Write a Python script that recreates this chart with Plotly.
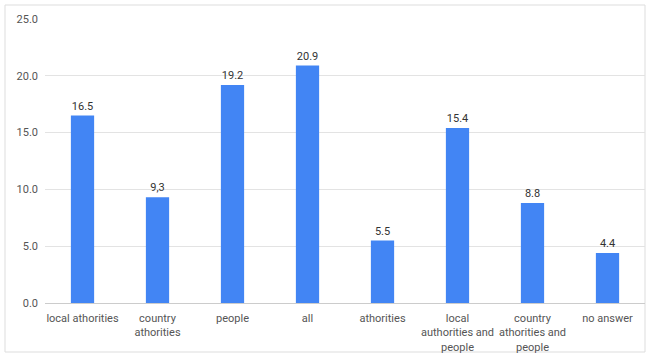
import plotly.graph_objects as go

categories = [
    "local athorities",
    "country<br>athorities",
    "people",
    "all",
    "athorities",
    "local<br>authorities and<br>people",
    "country<br>athorities and<br>people",
    "no answer",
]
values = [16.5, 9.3, 19.2, 20.9, 5.5, 15.4, 8.8, 4.4]
value_labels = ["16.5", "9,3", "19.2", "20.9", "5.5", "15.4", "8.8", "4.4"]
y_ticks = [0, 5, 10, 15, 20, 25]
y_tick_labels = ["0.0", "5.0", "10.0", "15.0", "20.0", "25.0"]

fig = go.Figure(
    go.Bar(
        x=categories,
        y=values,
        text=value_labels,
        textposition="outside",
        textfont=dict(family="Roboto, Arial, sans-serif", size=11, color="#333333"),
        cliponaxis=False,
        marker=dict(color="#4285F4", line=dict(width=0)),
        width=0.31,
    )
)

fig.update_layout(
    width=653,
    height=356,
    margin=dict(l=45, r=8, t=19, b=53),
    paper_bgcolor="white",
    plot_bgcolor="white",
    showlegend=False,
    font=dict(family="Roboto, Arial, sans-serif", size=11, color="#555555"),
    xaxis=dict(
        showgrid=False,
        showline=False,
        ticks="",
        tickfont=dict(size=11, color="#555555"),
        ticklabelstandoff=7,
        automargin=False,
        fixedrange=True,
    ),
    yaxis=dict(
        range=[0, 25],
        tickvals=y_ticks,
        ticktext=y_tick_labels,
        showgrid=True,
        gridcolor="#e3e3e3",
        gridwidth=1,
        zeroline=True,
        zerolinecolor="#cccccc",
        zerolinewidth=1,
        showline=False,
        ticks="",
        tickfont=dict(size=11, color="#555555"),
        ticklabelstandoff=6,
        automargin=False,
    ),
    shapes=[
        # light frame around the whole chart card
        dict(
            type="rect",
            xref="paper",
            yref="paper",
            x0=-40 / 600,
            x1=1.0,
            y0=-49 / 284,
            y1=1 + 14 / 284,
            line=dict(color="#dddddd", width=1),
            fillcolor="rgba(0,0,0,0)",
            layer="below",
        )
    ],
)

fig.write_html("out.html")
